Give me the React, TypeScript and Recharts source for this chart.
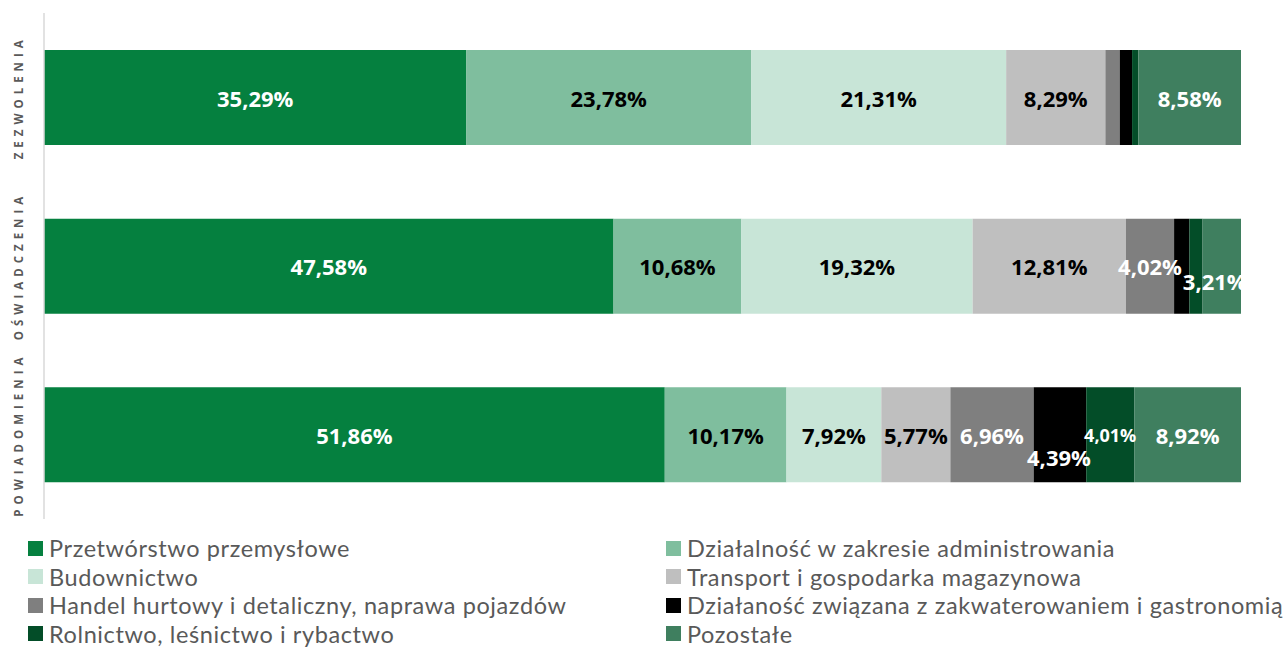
import React from 'react';
import { BarChart, Bar, XAxis, YAxis, LabelList } from 'recharts';

// ---- data ----
const categories = ['ZEZWOLENIA', 'OŚWIADCZENIA', 'POWIADOMIENIA'];
const przetworstwo = [35.29, 47.58, 51.86];
const administrowanie = [23.78, 10.68, 10.17];
const budownictwo = [21.31, 19.32, 7.92];
const transport = [8.29, 12.81, 5.77];
const handel = [1.2, 4.02, 6.96];
const zakwaterowanie = [1.03, 1.28, 4.39];
const rolnictwo = [0.52, 1.1, 4.01];
const pozostale = [8.58, 3.21, 8.92];

const seriesNames = [
  'Przetwórstwo przemysłowe',
  'Działalność w zakresie administrowania',
  'Budownictwo',
  'Transport i gospodarka magazynowa',
  'Handel hurtowy i detaliczny, naprawa pojazdów',
  'Działaność związana z zakwaterowaniem i gastronomią',
  'Rolnictwo, leśnictwo i rybactwo',
  'Pozostałe',
];
const seriesKeys = ['przetworstwo', 'administrowanie', 'budownictwo', 'transport', 'handel', 'zakwaterowanie', 'rolnictwo', 'pozostale'];
const seriesValues = [przetworstwo, administrowanie, budownictwo, transport, handel, zakwaterowanie, rolnictwo, pozostale];

// ---- styles ----
const seriesColors = ['#05803F', '#7FBE9E', '#C8E5D7', '#BFBFBF', '#7F7F7F', '#000000', '#034D28', '#3F7F5F'];
const labelColors = ['#FFFFFF', '#000000', '#000000', '#000000', '#FFFFFF', '#FFFFFF', '#FFFFFF', '#FFFFFF'];
const labelNudges: Record<string, { dx?: number; dy?: number; fontSize?: number }> = {
  '1|pozostale': { dx: -7, dy: 15 },
  '2|zakwaterowanie': { dx: -1, dy: 22 },
  '2|rolnictwo': { fontSize: 18 },
};

const data = categories.map((name, i) => {
  const row: Record<string, string | number> = { name };
  seriesKeys.forEach((k, s) => {
    row[k] = seriesValues[s][i];
  });
  return row;
});

const FONT = '"Open Sans", sans-serif';
const LEGEND_FONT = 'Lato, "Open Sans", sans-serif';

const makeLabel = (key: string, color: string, clip: boolean) => (props: any) => {
  const { x, y, width, height, value, index } = props;
  if (value == null || Number(value) < 2) return null;
  const nx = Number(x), ny = Number(y), w = Number(width), h = Number(height);
  const n = labelNudges[`${index}|${key}`] || {};
  const cx = nx + w / 2 + (n.dx || 0);
  const cy = ny + h / 2 + (n.dy || 0);
  const txt = Number(value).toFixed(2).replace('.', ',') + '%';
  const clipId = `lblclip-${key}-${index}`;
  return (
    <g>
      {clip && (
        <defs>
          <clipPath id={clipId}>
            <rect x={nx - 300} y={ny - 50} width={w + 300} height={h + 100} />
          </clipPath>
        </defs>
      )}
      <text
        x={cx}
        y={cy}
        textAnchor="middle"
        dominantBaseline="central"
        fill={color}
        fontFamily={FONT}
        fontWeight={700}
        fontSize={n.fontSize || 22}
        clipPath={clip ? `url(#${clipId})` : undefined}
      >
        {txt}
      </text>
    </g>
  );
};

const CategoryTick = (props: any) => {
  const { x, y, payload } = props;
  return (
    <text
      transform={`translate(${Number(x) - 18}, ${Number(y)}) rotate(-90)`}
      textAnchor="middle"
      dominantBaseline="central"
      fill="#595959"
      fontFamily={FONT}
      fontWeight={700}
      fontSize={11.5}
      letterSpacing={5}
    >
      {payload.value}
    </text>
  );
};

export default function App() {
  return (
    <div style={{ position: 'absolute', left: 0, top: 0, width: 1285, height: 648, background: '#fff', overflow: 'hidden' }}>
      <BarChart
        width={1285}
        height={520}
        layout="vertical"
        data={data}
        margin={{ top: 13, right: 44, bottom: 1, left: 0 }}
      >
        <XAxis type="number" domain={[0, 100]} hide />
        <YAxis
          type="category"
          dataKey="name"
          width={44}
          axisLine={{ stroke: '#D9D9D9', strokeWidth: 1.5 }}
          tickLine={false}
          tick={<CategoryTick />}
          interval={0}
        />
        {seriesKeys.map((k, s) => (
          <Bar key={k} dataKey={k} name={seriesNames[s]} stackId="a" fill={seriesColors[s]} barSize={95} isAnimationActive={false}>
            <LabelList dataKey={k} content={makeLabel(k, labelColors[s], k === 'pozostale')} />
          </Bar>
        ))}
      </BarChart>
      <div style={{ position: 'absolute', left: 0, top: 534, width: 1285, fontFamily: LEGEND_FONT, fontSize: 23.5, lineHeight: '28px', letterSpacing: 0.6, color: '#595959' }}>
        {seriesNames.map((nm, s) => {
          const col = s % 2;
          const row = Math.floor(s / 2);
          return (
            <div
              key={nm}
              style={{
                position: 'absolute',
                left: col === 0 ? 28 : 666,
                top: row * 28.5,
                height: 28,
                display: 'flex',
                alignItems: 'center',
                whiteSpace: 'nowrap',
              }}
            >
              <span style={{ display: 'inline-block', width: 15, height: 15, background: seriesColors[s], marginRight: 6 }} />
              <span>{nm}</span>
            </div>
          );
        })}
      </div>
    </div>
  );
}
